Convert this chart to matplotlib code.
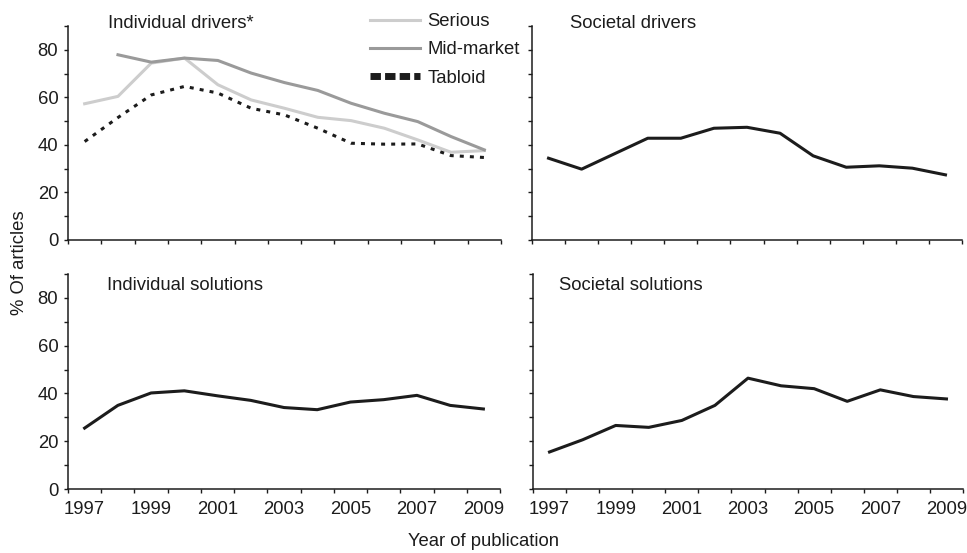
import numpy as np
import matplotlib
matplotlib.use("Agg")
import matplotlib.pyplot as plt
from matplotlib.lines import Line2D

plt.rcParams['font.family'] = ['Liberation Sans', 'DejaVu Sans']

years = [1997, 1998, 1999, 2000, 2001, 2002, 2003, 2004, 2005, 2006, 2007, 2008, 2009]

# individual drivers, by type of newspaper
serious = [57.3, 60.4, 74.4, 76.5, 65.3, 58.9, 55.4, 51.6, 50.2, 47.0, 42.1, 36.9, 37.6]
mid_market = [None, 77.9, 74.8, 76.5, 75.5, 70.2, 66.2, 62.9, 57.5, 53.3, 49.8, 43.5, 37.9]
tabloid = [41.4, 51.5, 61.0, 64.6, 61.8, 55.4, 52.6, 47.0, 40.7, 40.3, 40.4, 35.5, 34.7]

societal_drivers = [34.4, 29.8, 36.3, 42.8, 42.8, 47.0, 47.4, 44.9, 35.4, 30.6, 31.2, 30.2, 27.4]
individual_solutions = [25.5, 35.0, 40.2, 41.1, 39.0, 37.1, 34.1, 33.2, 36.4, 37.4, 39.2, 35.0, 33.5]
societal_solutions = [15.5, 20.6, 26.6, 25.8, 28.7, 35.0, 46.4, 43.2, 42.0, 36.7, 41.5, 38.7, 37.7]

titles = ["Individual drivers*", "Societal drivers", "Individual solutions", "Societal solutions"]

W, H = 967, 553
fig = plt.figure(figsize=(W / 100, H / 100), dpi=100)

def px_axes(left, right, top, bottom):
    return fig.add_axes([left / W, 1 - bottom / H, (right - left) / W, (bottom - top) / H])

ax_tl = px_axes(68, 501, 26, 240)
ax_tr = px_axes(532, 962, 26, 240)
ax_bl = px_axes(68, 500, 274, 489)
ax_br = px_axes(533, 963, 274, 489)

fs = 13.3
black = '#1c1c1c'
x = np.arange(len(years))

def style(ax, show_xlabels, show_ylabels):
    ax.set_xlim(-0.5, len(years) - 0.5)
    ax.set_ylim(0, 90)
    for s in ['top', 'right']:
        ax.spines[s].set_visible(False)
    for s in ['left', 'bottom']:
        ax.spines[s].set_linewidth(1.1)
        ax.spines[s].set_color(black)
    # tick marks sit between the categories
    ax.set_xticks(np.arange(-0.5, len(years)), minor=True)
    ax.tick_params(axis='x', which='minor', direction='out', length=3, width=1.0, color=black)
    labels = [str(y) if i % 2 == 0 else '' for i, y in enumerate(years)]
    ax.set_xticks(x)
    ax.set_xticklabels(labels if show_xlabels else [''] * len(years))
    ax.tick_params(axis='x', which='major', length=0, pad=9, labelsize=fs, labelcolor=black)
    ax.set_yticks(np.arange(0, 81, 20))
    ax.set_yticks(np.arange(10, 91, 20), minor=True)
    if not show_ylabels:
        ax.set_yticklabels([])
    ax.tick_params(axis='y', which='both', direction='out', length=3, width=1.0,
                   color=black, labelsize=fs, labelcolor=black, pad=4)

style(ax_tl, False, True)
style(ax_tr, False, False)
style(ax_bl, True, True)
style(ax_br, True, False)

lw = 2.2
ax_tl.plot(x, serious, color='#cdcdcd', lw=lw, label='Serious')
mm = np.array([np.nan if v is None else v for v in mid_market], dtype=float)
ax_tl.plot(x, mm, color='#9a9a9a', lw=lw, label='Mid-market')
ax_tl.plot(x, tabloid, color=black, lw=lw, dashes=(1.3, 2.0), label='Tabloid')

ax_tr.plot(x, societal_drivers, color=black, lw=lw)
ax_bl.plot(x, individual_solutions, color=black, lw=lw)
ax_br.plot(x, societal_solutions, color=black, lw=lw)

handles = [
    Line2D([], [], color='#cdcdcd', lw=lw),
    Line2D([], [], color='#9a9a9a', lw=lw),
    Line2D([], [], color=black, lw=5, dashes=(1.5, 0.6)),
]
fig.legend(handles, ['Serious', 'Mid-market', 'Tabloid'], loc='upper left',
           bbox_to_anchor=(370 / W, 1 - 13 / H), frameon=False, fontsize=fs,
           handlelength=2.7, handletextpad=0.42, labelspacing=0.62,
           borderpad=0, borderaxespad=0, labelcolor=black)

title_pos = [(108, 23), (570, 23), (107, 285), (559, 285)]
for t, (tx, ty) in zip(titles, title_pos):
    fig.text(tx / W, 1 - ty / H, t, fontsize=fs, color=black, ha='left', va='center')

fig.text(20 / W, 1 - 263 / H, '% Of articles', rotation=90, fontsize=fs,
         color=black, ha='center', va='center')
fig.text(483 / W, 1 - 541 / H, 'Year of publication', fontsize=fs,
         color=black, ha='center', va='center')

fig.savefig('out.png', dpi=100, facecolor='white')
